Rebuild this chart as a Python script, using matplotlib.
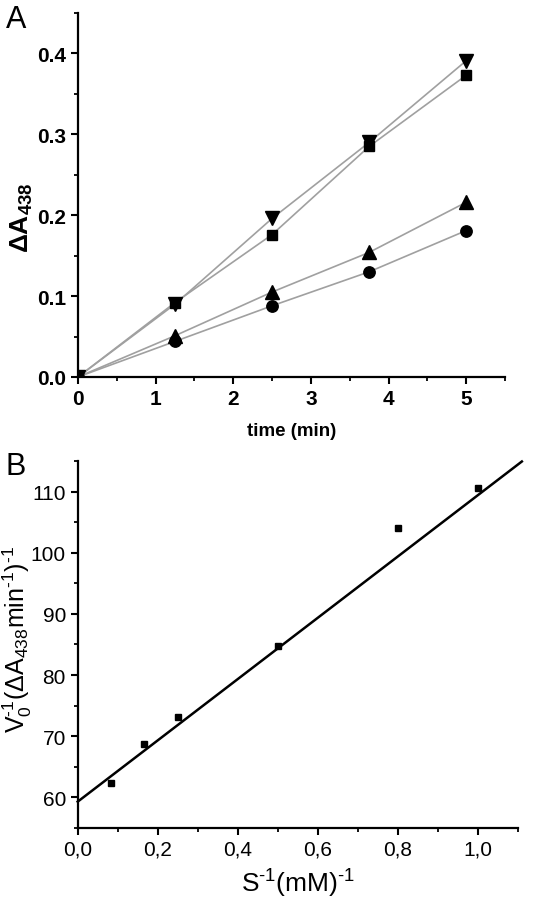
import matplotlib
matplotlib.use("Agg")
import matplotlib.pyplot as plt
from matplotlib.ticker import MultipleLocator, FormatStrFormatter, FuncFormatter
import numpy as np

plt.rcParams['font.family'] = ['Liberation Sans', 'DejaVu Sans']
plt.rcParams['mathtext.fontset'] = 'custom'
plt.rcParams['mathtext.rm'] = 'Liberation Sans'
plt.rcParams['mathtext.it'] = 'Liberation Sans'
plt.rcParams['mathtext.bf'] = 'Liberation Sans:bold'

# panel A: absorbance vs time
time_min = [0, 1.25, 2.5, 3.75, 5]
dA_down = [0, 0.090, 0.196, 0.290, 0.391]
dA_square = [0, 0.092, 0.176, 0.285, 0.373]
dA_up = [0, 0.051, 0.105, 0.154, 0.216]
dA_circle = [0, 0.044, 0.088, 0.130, 0.181]

# panel B: Lineweaver-Burk
inv_s = [1 / 12, 1 / 6, 0.25, 0.5, 0.8, 1.0]
inv_v = [62.3, 68.7, 73.2, 84.8, 104.1, 110.5]
fit_intercept = 59.3
fit_slope = 50.1
fit_x_end = 1.11


def style_axes(ax):
    for side in ("top", "right"):
        ax.spines[side].set_visible(False)
    for side in ("left", "bottom"):
        ax.spines[side].set_linewidth(1.6)
    ax.tick_params(which="major", direction="out", length=5, width=1.5, labelsize=15)
    ax.tick_params(which="minor", direction="out", length=3, width=1.3)


def main():
    fig = plt.figure(figsize=(5.48, 9.04), dpi=100)

    ax = fig.add_axes([0.1423, 0.5819, 0.9215 - 0.1423, 0.9845 - 0.5819])
    style_axes(ax)
    series = [(dA_down, "v", 10), (dA_square, "s", 7.8), (dA_up, "^", 10), (dA_circle, "o", 8.2)]
    for vals, mk, ms in series:
        ax.plot(time_min, vals, color="#a0a0a0", lw=1.2, zorder=2)
        ax.plot(time_min, vals, ls="none", marker=mk, ms=ms, color="black", zorder=3)
    ax.set_xlim(0, 5.5)
    ax.set_ylim(0, 0.45)
    ax.xaxis.set_major_locator(MultipleLocator(1))
    ax.xaxis.set_minor_locator(MultipleLocator(0.5))
    ax.yaxis.set_major_locator(MultipleLocator(0.1))
    ax.yaxis.set_minor_locator(MultipleLocator(0.05))
    ax.yaxis.set_major_formatter(FormatStrFormatter("%.1f"))
    for lab in ax.get_xticklabels() + ax.get_yticklabels():
        lab.set_fontweight("bold")
    ax.set_xlabel("time (min)", fontsize=13.5, fontweight="bold", labelpad=10)
    ax.set_ylabel(r"ΔA$_{\mathbf{438}}$", fontsize=19, fontweight="bold")
    ax.yaxis.set_label_coords(-0.1, 0.44)
    fig.text(0.01, 0.995, "A", fontsize=22, va="top", ha="left")

    bx = fig.add_axes([0.1418, 0.083, 0.945 - 0.1418, 0.489 - 0.083])
    style_axes(bx)
    bx.plot(inv_s, inv_v, ls="none", marker="s", ms=5, color="black", zorder=3)
    xs = np.array([0, fit_x_end])
    bx.plot(xs, fit_intercept + fit_slope * xs, color="black", lw=1.8, clip_on=False)
    bx.set_xlim(0, 1.1)
    bx.set_ylim(55, 115)
    bx.xaxis.set_major_locator(MultipleLocator(0.2))
    bx.xaxis.set_minor_locator(MultipleLocator(0.1))
    bx.yaxis.set_major_locator(MultipleLocator(10))
    bx.yaxis.set_minor_locator(MultipleLocator(5))
    bx.xaxis.set_major_formatter(FuncFormatter(lambda v, p: f"{v:.1f}".replace(".", ",")))
    bx.yaxis.set_major_formatter(FuncFormatter(lambda v, p: "" if v < 60 else f"{v:.0f}"))
    bx.set_xlabel(r"S$^{\text{-1}}$(mM)$^{\text{-1}}$", fontsize=19, labelpad=6)
    bx.set_ylabel(r"V$_{\text{0}}^{\text{-1}}$(ΔA$_{\text{438}}$min$^{\text{-1}}$)$^{\text{-1}}$",
                  fontsize=18)
    bx.yaxis.set_label_coords(-0.1, 0.515)
    fig.text(0.01, 0.5, "B", fontsize=22, va="top", ha="left")

    fig.savefig("out.png", dpi=100)


if __name__ == '__main__':
    main()
